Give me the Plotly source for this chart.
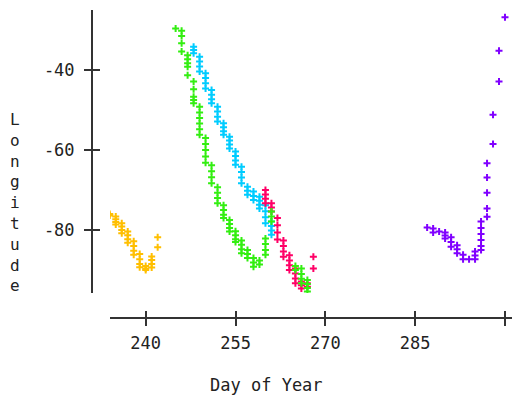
import plotly.graph_objects as go

# ---- data (day of year, longitude) ----
orange_day = [234, 234, 235, 235, 235, 235, 236, 236, 236, 236, 237, 237, 237, 237,
              238, 238, 238, 238, 239, 239, 239, 239, 240, 240, 240, 241, 241, 241, 241, 242, 242]
orange_lon = [-76.0, -76.4, -76.6, -77.3, -78.0, -78.6, -78.3, -79.1, -80.0, -80.8,
              -80.4, -81.3, -82.3, -83.2, -82.8, -84.0, -85.2, -86.2, -86.0, -87.3, -88.5, -89.3,
              -89.0, -89.6, -90.0, -89.4, -88.5, -87.5, -86.6, -84.3, -81.8]

cyan_day = [248, 248, 248, 249, 249, 249, 249, 250, 250, 250, 250, 251, 251, 251, 251,
            252, 252, 252, 252, 253, 253, 253, 253, 254, 254, 254, 254, 255, 255, 255, 255,
            256, 256, 256, 256, 257, 257, 257, 258, 258, 258, 259, 259, 259, 259,
            260, 260, 260, 260, 261, 261, 261, 261]
cyan_lon = [-34.2, -35.0, -35.8, -36.7, -37.9, -39.1, -40.4, -40.8, -42.0, -43.3, -44.6,
            -45.0, -46.2, -47.3, -48.3, -49.2, -50.4, -51.7, -52.9, -53.3, -54.3, -55.3, -56.2,
            -56.7, -57.6, -58.6, -59.6, -60.4, -61.5, -62.6, -63.7, -64.2, -65.5, -66.9, -68.3,
            -69.2, -70.2, -71.2, -70.4, -71.5, -72.5, -71.7, -72.7, -73.7, -74.6,
            -73.8, -75.3, -76.8, -78.3, -77.9, -79.0, -80.1, -81.2]

red_day = [260, 260, 260, 260, 261, 261, 261, 262, 262, 262, 262, 263, 263, 263, 263,
           264, 264, 264, 264, 265, 265, 265, 265, 266, 266, 266, 267, 267, 268, 268]
red_lon = [-70.0, -71.1, -72.2, -73.3, -73.3, -74.4, -75.4, -77.0, -78.8, -80.6, -82.4,
           -82.6, -84.0, -85.4, -86.7, -86.3, -87.6, -88.8, -90.0, -89.6, -90.9, -92.1, -93.3,
           -92.9, -93.8, -94.6, -93.3, -94.2, -86.7, -89.6]

green_day = [245, 246, 246, 246, 246, 247, 247, 247, 247, 247, 248, 248, 248, 248, 248,
             249, 249, 249, 249, 249, 249, 250, 250, 250, 250, 250, 251, 251, 251, 251,
             252, 252, 252, 252, 253, 253, 253, 253, 254, 254, 254, 254, 255, 255, 255, 255,
             256, 256, 256, 256, 257, 257, 257, 258, 258, 258, 259, 259,
             260, 260, 260, 260, 261, 261, 261]
green_lon = [-29.6, -30.2, -31.5, -33.3, -35.4, -36.3, -37.3, -38.3, -39.2, -41.3,
             -42.9, -44.8, -46.7, -47.5, -48.3, -49.2, -50.6, -52.0, -53.4, -54.8, -56.2,
             -57.0, -58.5, -60.0, -61.6, -63.2, -63.8, -65.3, -66.8, -68.3,
             -69.3, -70.7, -72.0, -73.3, -73.8, -75.0, -76.2, -77.0, -77.5, -78.5, -79.5, -80.4,
             -80.3, -81.3, -82.3, -83.0, -82.6, -83.7, -84.8, -85.8, -85.0, -86.0, -87.0,
             -87.0, -88.1, -89.2, -87.6, -88.6, -86.2, -85.0, -83.5, -82.1, -77.9, -76.6, -75.4]

green2_day = [265, 265, 266, 266, 266, 266, 267, 267, 267, 267]
green2_lon = [-89.0, -90.0, -89.6, -91.0, -92.2, -93.3, -92.5, -93.5, -94.5, -95.4]

purple_day = [287, 288, 288, 289, 290, 290, 290, 291, 291, 291, 292, 292, 292, 293, 293, 294,
              295, 295, 295, 296, 296, 296, 296, 296, 296, 297, 297, 297, 297, 297,
              298, 298, 299, 299, 300]
purple_lon = [-79.4, -79.6, -80.6, -80.4, -80.6, -81.4, -82.1, -81.8, -83.0, -84.2,
              -83.8, -84.8, -85.8, -86.2, -87.3, -87.3, -85.4, -86.4, -87.3,
              -77.9, -79.5, -81.0, -82.5, -84.0, -85.0, -63.3, -66.9, -70.7, -74.6, -76.7,
              -58.5, -51.2, -42.9, -35.2, -26.8]

x_ticks = [240, 255, 270, 285, 300]
x_tick_text = ["240", "255", "270", "285", ""]
y_ticks = [-80, -60, -40]
y_tick_text = ["-80", "-60", "-40"]

series = [
    (orange_day, orange_lon, "#FFBF00"),
    (purple_day, purple_lon, "#8000FF"),
    (cyan_day, cyan_lon, "#00CCFF"),
    (red_day, red_lon, "#FF0066"),
    (green_day, green_lon, "#33EE11"),
    (green2_day, green2_lon, "#33EE11"),
]

fig = go.Figure()
for d, l, c in series:
    fig.add_trace(go.Scatter(
        x=d, y=l, mode="markers", showlegend=False,
        marker=dict(symbol="cross-thin", size=5, color=c, line=dict(width=2, color=c)),
    ))

FONT = "DejaVu Sans Mono"
xr = [234.04, 301.17]
yr = [-95.75, -25.0]
xdom = [18 / 420, 1.0]
ydom = [25 / 308, 1.0]
axcol = "#333333"

fig.update_layout(
    width=512, height=399,
    margin=dict(l=92, r=0, t=10, b=81),
    paper_bgcolor="white", plot_bgcolor="white",
    font=dict(family=FONT, size=17, color="#222222"),
    xaxis=dict(domain=xdom, range=xr, anchor="free", position=0,
               showline=True, linecolor=axcol, linewidth=2,
               ticks="outside", ticklen=7, tickwidth=2, tickcolor=axcol,
               tickvals=x_ticks, ticktext=x_tick_text, showgrid=False, zeroline=False,
               ticklabelstandoff=3),
    xaxis2=dict(domain=xdom, range=xr, anchor="free", position=0, overlaying="x",
                showline=False, ticks="inside", ticklen=7, tickwidth=2, tickcolor=axcol,
                tickvals=x_ticks, showticklabels=False, showgrid=False, zeroline=False),
    yaxis=dict(domain=ydom, range=yr, anchor="free", position=0,
               showline=True, linecolor=axcol, linewidth=2,
               ticks="outside", ticklen=7, tickwidth=2, tickcolor=axcol,
               tickvals=y_ticks, ticktext=y_tick_text, showgrid=False, zeroline=False,
               ticklabelstandoff=6),
    yaxis2=dict(domain=ydom, range=yr, anchor="free", position=0, overlaying="y",
                showline=False, ticks="inside", ticklen=7, tickwidth=2, tickcolor=axcol,
                tickvals=y_ticks, showticklabels=False, showgrid=False, zeroline=False),
)
# dummy trace to activate overlay axes
fig.add_trace(go.Scatter(x=[None], y=[None], xaxis="x2", yaxis="y2", showlegend=False, hoverinfo="skip"))

fig.add_annotation(text="Day of Year", xref="paper", yref="paper",
                   x=(266 - 92) / 420, y=(318 - 385) / 308, xanchor="center", yanchor="middle",
                   showarrow=False, font=dict(family=FONT, size=17, color="#222222"))
fig.add_annotation(text="<br>".join("Longitude"), xref="paper", yref="paper",
                   x=(15 - 92) / 420, y=(318 - 202) / 308, xanchor="center", yanchor="middle",
                   showarrow=False, font=dict(family=FONT, size=16, color="#222222"))

fig.write_html("out.html")
